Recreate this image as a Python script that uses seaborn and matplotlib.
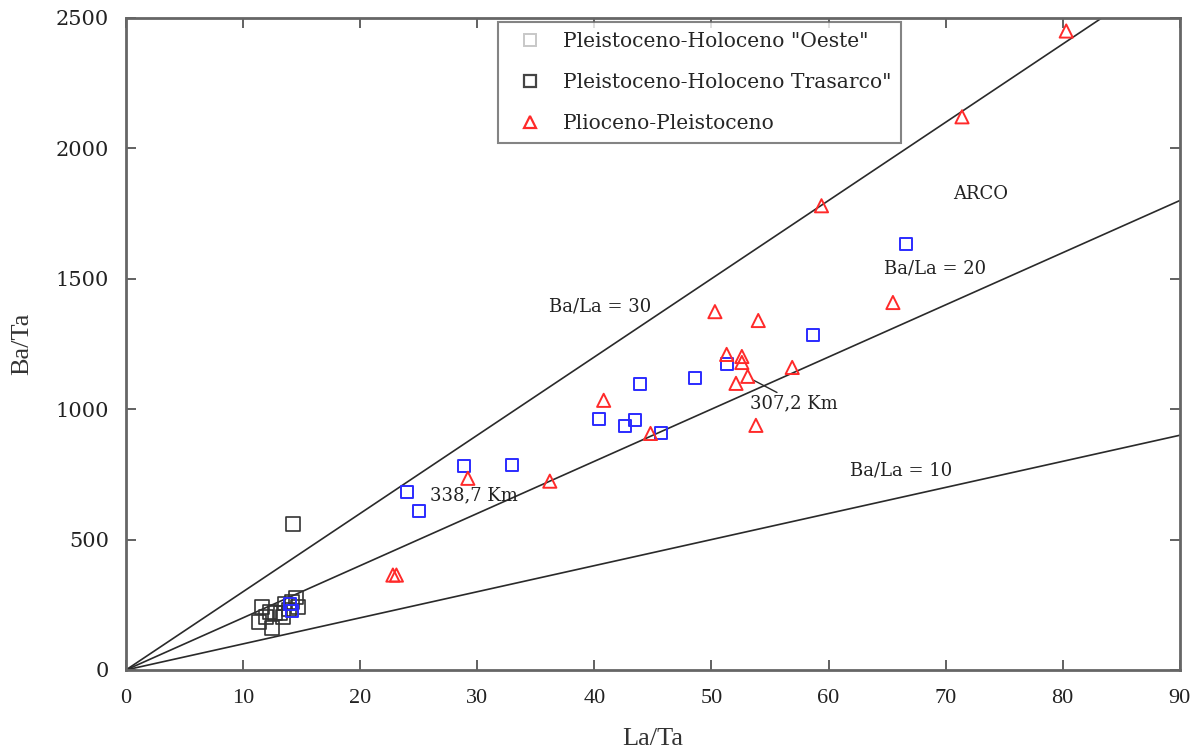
import matplotlib
matplotlib.use("Agg")
import matplotlib.pyplot as plt
from matplotlib.lines import Line2D
import seaborn as sns
import pandas as pd

# Pleistoceno-Holoceno "Oeste" (blue open squares)
oeste_la_ta = [24.0, 25.0, 28.9, 33.0, 40.4, 42.6, 43.5, 43.9, 45.7, 48.6, 51.3, 58.7, 66.6, 14.0, 14.2]
oeste_ba_ta = [681, 609, 781, 785, 961, 934, 957, 1095, 907, 1118, 1172, 1283, 1635, 252, 228]

# Pleistoceno-Holoceno "Trasarco" (dark open squares)
tras_la_ta = [11.6, 11.4, 12.5, 12.3, 12.7, 13.2, 13.4, 13.6, 14.2, 14.5, 14.7, 13.9, 12.0, 14.3]
tras_ba_ta = [240, 185, 160, 223, 217, 217, 204, 255, 262, 278, 240, 232, 204, 560]

# Plioceno-Pleistoceno (red open triangles)
plio_la_ta = [22.8, 23.1, 29.2, 36.2, 40.8, 44.8, 50.3, 51.3, 52.1, 52.6, 52.6, 53.1,
              53.8, 54.0, 56.9, 59.4, 65.5, 71.4, 80.3]
plio_ba_ta = [364, 364, 735, 724, 1034, 907, 1374, 1210, 1099, 1202, 1179, 1126,
              938, 1340, 1160, 1780, 1409, 2121, 2450]

# Reference Ba/La ratios
ratios = [30, 20, 10]

legend_labels = ['Pleistoceno-Holoceno "Oeste"',
                 'Pleistoceno-Holoceno Trasarco"',
                 'Plioceno-Pleistoceno']

x_ticks = list(range(0, 91, 10))
y_ticks = list(range(0, 2501, 500))

sns.set_theme(style="white")
plt.rcParams['font.family'] = ['DejaVu Serif', 'Liberation Serif']

SERIF_NARROW = ['Liberation Serif', 'DejaVu Serif']

fig = plt.figure(figsize=(11.99, 7.55), dpi=100)
ax = fig.add_axes([0.105, 0.1126, 0.879, 0.8636])

# Ba/La reference lines through the origin
for r in ratios:
    ax.axline((0, 0), slope=r, color="#2a2a2a", lw=1.2, zorder=1)

df_oeste = pd.DataFrame({"La/Ta": oeste_la_ta, "Ba/Ta": oeste_ba_ta})
df_tras = pd.DataFrame({"La/Ta": tras_la_ta, "Ba/Ta": tras_ba_ta})
df_plio = pd.DataFrame({"La/Ta": plio_la_ta, "Ba/Ta": plio_ba_ta})

sns.scatterplot(data=df_oeste, x="La/Ta", y="Ba/Ta", marker="s", s=75,
                facecolors="none", edgecolor="#2b2bff", linewidth=1.4, ax=ax, zorder=3)
sns.scatterplot(data=df_tras, x="La/Ta", y="Ba/Ta", marker="s", s=100,
                facecolors="none", edgecolor="#333333", linewidth=1.2, ax=ax, zorder=2)
sns.scatterplot(data=df_plio, x="La/Ta", y="Ba/Ta", marker="^", s=90,
                facecolors="none", edgecolor="#ff2a2a", linewidth=1.4, ax=ax, zorder=4)

ax.set_xlim(0, 90)
ax.set_ylim(0, 2500)
ax.set_xticks(x_ticks)
ax.set_xticklabels([str(t) for t in x_ticks], fontfamily=SERIF_NARROW, fontsize=16)
ax.set_yticks(y_ticks)
ax.set_yticklabels([str(t) for t in y_ticks], fontsize=15)
ax.tick_params(direction="in", length=7, width=1.3, color="#555555",
               top=True, right=True, bottom=True, left=True,
               labelcolor="#222222")
ax.tick_params(axis="y", pad=12)
ax.tick_params(axis="x", pad=14)
for sp in ax.spines.values():
    sp.set_color("#666666")
    sp.set_linewidth(2)

ax.set_xlabel("La/Ta", fontsize=19, color="#333333", labelpad=14, family=SERIF_NARROW)
ax.set_ylabel("Ba/Ta", fontsize=19, color="#333333", labelpad=16, family=SERIF_NARROW)

txt = dict(fontsize=13, color="#222222", ha="center", va="center")
ax.text(40.5, 1394, "Ba/La = 30", **txt)
ax.text(69.1, 1539, "Ba/La = 20", **txt)
ax.text(66.2, 766, "Ba/La = 10", **txt)
ax.text(73.0, 1826, "ARCO", **txt)
ax.text(57.0, 1022, "307,2 Km", **txt)
ax.text(29.7, 670, "338,7 Km", **txt)
ax.plot([53.6, 55.6], [1111, 1064], color="#2a2a2a", lw=1.0)

handles = [
    Line2D([], [], marker="s", ls="none", markersize=8, markerfacecolor="none",
           markeredgecolor="#c8c8c8", markeredgewidth=1.4),
    Line2D([], [], marker="s", ls="none", markersize=8, markerfacecolor="none",
           markeredgecolor="#444444", markeredgewidth=1.6),
    Line2D([], [], marker="^", ls="none", markersize=9, markerfacecolor="none",
           markeredgecolor="#ff2a2a", markeredgewidth=1.6),
]
leg = ax.legend(handles, legend_labels, loc="upper left",
                bbox_to_anchor=(0.353, 0.994), fontsize=14.6, frameon=True,
                fancybox=False, borderpad=0.5, labelspacing=1.08,
                handletextpad=0.5, handlelength=2.2, borderaxespad=0)
leg.get_frame().set_edgecolor("#666666")
leg.get_frame().set_linewidth(1.5)

fig.savefig("out.png", dpi=100)
